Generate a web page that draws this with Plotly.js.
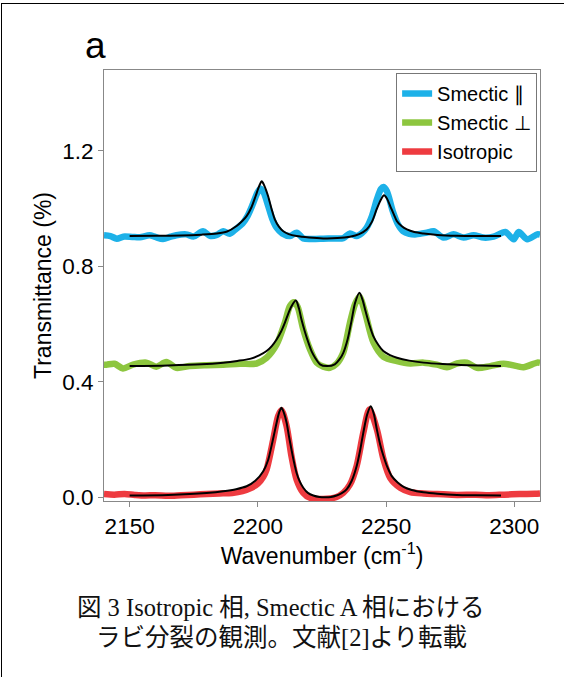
<!DOCTYPE html>
<html>
<head>
<meta charset="utf-8">
<script src="https://cdn.plot.ly/plotly-3.0.1.min.js"></script>
<style>
  html, body { margin: 0; padding: 0; background: #fff; }
  #chart { width: 564px; height: 677px; }
  #frame { position: absolute; left: 1px; top: 3px; width: 570px; height: 680px;
           border-left: 1.5px solid #000; border-top: 1.5px solid #000; pointer-events: none; }
</style>
</head>
<body>
<div id="chart"></div>
<div id="frame"></div>
<script>
// ---- Smectic ∥ (measured) ----
const parX = [2140, 2142.5, 2145, 2147.5, 2151, 2154, 2157.8, 2160, 2163, 2166, 2168.2, 2172, 2175, 2178.6, 2181.3, 2184, 2186.5, 2189, 2191.5, 2194, 2196, 2198, 2199.8, 2201, 2202.3, 2204, 2205.6, 2207.3, 2209.5, 2212.5, 2215.1, 2217.7, 2221, 2225.5, 2229.5, 2233.3, 2235.9, 2238.5, 2240.5, 2242.4, 2244.5, 2246.4, 2248, 2249, 2250.3, 2252.6, 2254.5, 2256.6, 2259, 2261.8, 2265.9, 2268.5, 2272.4, 2276.3, 2280.2, 2284.1, 2288, 2291.9, 2296.5, 2299.7, 2301.7, 2305, 2308.9, 2310];
const parY = [0.908, 0.905, 0.896, 0.903, 0.902, 0.901, 0.908, 0.902, 0.895, 0.903, 0.908, 0.911, 0.904, 0.922, 0.906, 0.909, 0.922, 0.913, 0.930, 0.948, 0.975, 1.015, 1.055, 1.070, 1.055, 1.010, 0.965, 0.934, 0.914, 0.905, 0.917, 0.897, 0.895, 0.896, 0.897, 0.898, 0.914, 0.905, 0.915, 0.934, 0.975, 1.032, 1.068, 1.075, 1.060, 0.991, 0.948, 0.922, 0.913, 0.911, 0.917, 0.922, 0.900, 0.911, 0.900, 0.908, 0.900, 0.903, 0.919, 0.894, 0.919, 0.894, 0.911, 0.910];
// ---- Smectic ∥ (fit) ----
const parFitX = [2150, 2160, 2170, 2178, 2184, 2188, 2191.7, 2194, 2195.6, 2197.5, 2199.1, 2200.5, 2201.5, 2202.5, 2204, 2205.3, 2206.6, 2208.2, 2209.9, 2212, 2215.1, 2220, 2225.5, 2231, 2235.9, 2239.5, 2242.4, 2244.5, 2246.4, 2248, 2249.2, 2250.3, 2251.6, 2253, 2254.2, 2256, 2258.1, 2261, 2264.6, 2270, 2277.6, 2285, 2294.8];
const parFitY = [0.905, 0.906, 0.907, 0.910, 0.914, 0.921, 0.940, 0.958, 0.974, 1.005, 1.043, 1.078, 1.095, 1.080, 1.043, 1.000, 0.963, 0.938, 0.922, 0.912, 0.905, 0.900, 0.897, 0.898, 0.903, 0.912, 0.928, 0.955, 1.000, 1.032, 1.046, 1.035, 1.009, 0.980, 0.957, 0.940, 0.928, 0.919, 0.914, 0.909, 0.906, 0.905, 0.905];

// ---- Smectic ⊥ (measured) ----
const perX = [2140, 2141, 2144.1, 2147.4, 2151.3, 2156.5, 2160.4, 2164.3, 2168.2, 2173.4, 2180, 2186.5, 2193, 2199.5, 2203.4, 2207.3, 2210.5, 2212.5, 2214.1, 2215.5, 2217.7, 2220.3, 2222.9, 2225.5, 2228.1, 2230.7, 2233.3, 2235.9, 2237.9, 2239.6, 2241.8, 2245.1, 2249, 2254.2, 2259.4, 2264.6, 2269.8, 2273.7, 2277.6, 2281.5, 2285.4, 2290.6, 2295.8, 2301, 2303.6, 2308.9, 2310];
const perY = [0.460, 0.460, 0.463, 0.447, 0.460, 0.467, 0.453, 0.469, 0.449, 0.455, 0.458, 0.460, 0.463, 0.464, 0.484, 0.530, 0.605, 0.663, 0.676, 0.660, 0.582, 0.513, 0.467, 0.453, 0.449, 0.463, 0.502, 0.605, 0.670, 0.695, 0.640, 0.536, 0.487, 0.472, 0.464, 0.467, 0.460, 0.451, 0.464, 0.467, 0.449, 0.455, 0.463, 0.455, 0.451, 0.467, 0.466];
// ---- Smectic ⊥ (fit) ----
const perFitX = [2150, 2165, 2178, 2186.5, 2192, 2196.9, 2200.5, 2203.4, 2205.5, 2207.3, 2209, 2210.5, 2212, 2213.1, 2214.8, 2216, 2217, 2218.3, 2219.7, 2221, 2222.3, 2224.2, 2226.8, 2230, 2231.8, 2233.3, 2235, 2236.6, 2237.9, 2239.6, 2240.8, 2241.8, 2243.4, 2245, 2247, 2248.9, 2251.5, 2254.2, 2259, 2264.6, 2272, 2282, 2294.8];
const perFitY = [0.455, 0.457, 0.461, 0.467, 0.473, 0.480, 0.492, 0.507, 0.525, 0.547, 0.574, 0.605, 0.640, 0.662, 0.682, 0.655, 0.616, 0.575, 0.536, 0.505, 0.484, 0.461, 0.455, 0.461, 0.478, 0.501, 0.548, 0.616, 0.674, 0.709, 0.685, 0.651, 0.600, 0.559, 0.528, 0.507, 0.493, 0.484, 0.474, 0.467, 0.462, 0.458, 0.455];

// ---- Isotropic (measured) ----
const isoX = [2140, 2144, 2148, 2152, 2156, 2160, 2165, 2170, 2175, 2180, 2185, 2190, 2194, 2197, 2200, 2202.1, 2203.4, 2206, 2207.9, 2209.2, 2211.2, 2213.1, 2215.1, 2217.7, 2220.3, 2225.5, 2230.7, 2233.3, 2235.9, 2238.5, 2241.1, 2243.5, 2246.4, 2249, 2251.6, 2255.5, 2259.4, 2264.6, 2270, 2277.6, 2285, 2290, 2296, 2302, 2308, 2310];
const isoY = [0.012, 0.010, 0.012, 0.009, 0.007, 0.008, 0.006, 0.008, 0.010, 0.012, 0.014, 0.016, 0.022, 0.032, 0.048, 0.072, 0.097, 0.201, 0.282, 0.302, 0.247, 0.143, 0.062, 0.016, -0.001, -0.005, 0.002, 0.016, 0.045, 0.109, 0.224, 0.305, 0.236, 0.132, 0.068, 0.034, 0.019, 0.014, 0.012, 0.009, 0.010, 0.008, 0.010, 0.012, 0.013, 0.014];
// ---- Isotropic (fit) ----
const isoFitX = [2150, 2165, 2173.4, 2180, 2186.5, 2191.5, 2195.6, 2199, 2202.1, 2204, 2205.3, 2206.3, 2207.3, 2208.3, 2209.2, 2210.2, 2211.2, 2212.1, 2213.1, 2214.1, 2215.1, 2216.3, 2217.7, 2219.5, 2221.6, 2224, 2226.2, 2228.5, 2230.7, 2232.7, 2234.6, 2236.6, 2238.5, 2239.8, 2241.1, 2242.6, 2244, 2245.2, 2246.4, 2247.7, 2249, 2250.5, 2252.2, 2254.5, 2256.8, 2260, 2264.6, 2270, 2277.6, 2285, 2294.8];
const isoFitY = [0.007, 0.009, 0.012, 0.016, 0.022, 0.029, 0.039, 0.058, 0.091, 0.130, 0.178, 0.218, 0.259, 0.295, 0.311, 0.292, 0.259, 0.213, 0.166, 0.122, 0.085, 0.056, 0.034, 0.016, 0.007, 0.002, 0.001, 0.002, 0.007, 0.015, 0.028, 0.058, 0.108, 0.160, 0.224, 0.287, 0.316, 0.290, 0.235, 0.183, 0.143, 0.105, 0.074, 0.052, 0.037, 0.026, 0.018, 0.013, 0.009, 0.008, 0.007];

const seriesNames = ["Smectic ∥", "Smectic ⊥", "Isotropic"];
const seriesColors = ["#1db1e8", "#8dc63f", "#ee3b40"];
const xTicks = [2150, 2200, 2250, 2300];
const yTicks = [0.0, 0.4, 0.8, 1.2];
const captionLines = ["図 3 Isotropic 相, Smectic A 相における", "ラビ分裂の観測。文献[2]より転載"];

const measured = [[parX, parY], [perX, perY], [isoX, isoY]];
const fits = [[parFitX, parFitY], [perFitX, perFitY], [isoFitX, isoFitY]];

const traces = [];
measured.forEach((d, i) => {
  traces.push({
    x: d[0], y: d[1], type: 'scatter', mode: 'lines', name: seriesNames[i],
    line: { color: seriesColors[i], width: 6.5, shape: 'spline', smoothing: 0.8 },
    showlegend: true
  });
});
fits.forEach((d) => {
  traces.push({
    x: d[0], y: d[1], type: 'scatter', mode: 'lines',
    line: { color: '#000', width: 2, shape: 'spline', smoothing: 0.8 },
    showlegend: false, hoverinfo: 'skip'
  });
});

const sans = 'Liberation Sans, Arial, Helvetica, sans-serif';
const capFont = { family: '"Liberation Serif", "Noto Sans CJK JP", serif', size: 24.5, color: '#111' };

const layout = {
  width: 564, height: 677,
  margin: { l: 104, r: 24, t: 70, b: 176 },
  paper_bgcolor: '#fff', plot_bgcolor: '#fff',
  font: { family: sans, color: '#000', size: 22 },
  xaxis: {
    range: [2140, 2310], tickvals: xTicks, ticktext: xTicks.map(String),
    ticks: 'outside', ticklen: 5, tickcolor: '#888', linecolor: '#888', linewidth: 1,
    mirror: true, showgrid: false, zeroline: false,
    tickfont: { size: 22.5 },
    title: { text: 'Wavenumber (cm<sup>-1</sup>)', font: { size: 23 }, standoff: 2 }
  },
  yaxis: {
    range: [-0.012, 1.48], tickvals: yTicks, ticktext: yTicks.map(v => v.toFixed(1)),
    ticks: 'outside', ticklen: 5, tickcolor: '#888', linecolor: '#888', linewidth: 1,
    mirror: true, showgrid: false, zeroline: false,
    tickfont: { size: 22.5 },
    title: { text: 'Transmittance (%)', font: { size: 23 }, standoff: 4 }
  },
  legend: {
    x: 0.670, y: 0.993, xanchor: 'left', yanchor: 'top',
    bgcolor: '#fff', bordercolor: '#777', borderwidth: 1,
    font: { size: 20 }, itemwidth: 30, tracegroupgap: 0
  },
  annotations: [
    { text: 'a', xref: 'paper', yref: 'paper', x: -0.02, y: 1.058, xanchor: 'center', yanchor: 'middle',
      showarrow: false, font: { size: 37, family: sans } },
    { text: captionLines[0], xref: 'paper', yref: 'paper', x: (281 - 104) / 436, y: (501 - 607) / 431,
      xanchor: 'center', yanchor: 'middle', showarrow: false, font: capFont },
    { text: captionLines[1], xref: 'paper', yref: 'paper', x: (281 - 104) / 436, y: (501 - 637) / 431,
      xanchor: 'center', yanchor: 'middle', showarrow: false, font: capFont }
  ],
  showlegend: true
};

Plotly.newPlot('chart', traces, layout, { displayModeBar: false, staticPlot: true });
</script>
</body>
</html>
